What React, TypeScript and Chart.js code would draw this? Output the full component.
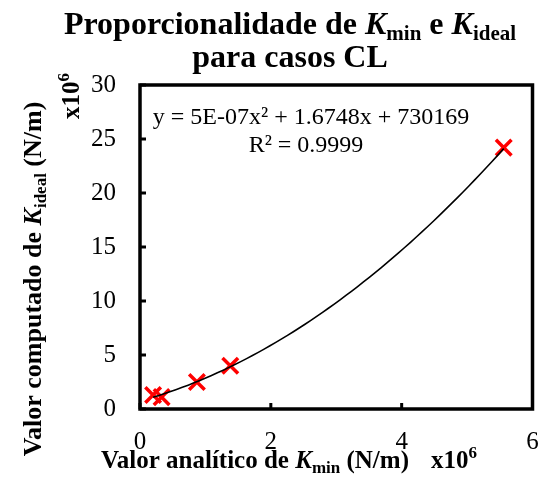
import React, { useEffect, useRef } from "react";
import { Chart, registerables } from "chart.js";
Chart.register(...registerables);

// values in units of 1e6 N/m
const kMinAnalytic = [0.2, 0.33, 0.87, 1.38, 5.56];
const kIdealComputed = [1.3, 1.1, 2.5, 4.0, 24.2];
const xTickValues = [0, 2, 4, 6];
const yTickValues = [0, 5, 10, 15, 20, 25, 30];
// Excel polynomial trendline (coefficients in 1e6 units; printed label rounds a to 5E-07)
const trendA = 0.455;
const trendB = 1.6748;
const trendC = 0.730169;
const trendSteps = 60;
const equationText = "y = 5E-07x² + 1.6748x + 730169";
const r2Text = "R² = 0.9999";

const FONT = '"Liberation Serif", "Times New Roman", serif';

type Seg = { t: string; size: number; bold?: boolean; italic?: boolean; dy?: number };

function fontOf(s: Seg) {
  return `${s.italic ? "italic " : ""}${s.bold ? "bold " : ""}${s.size}px ${FONT}`;
}

function drawRich(ctx: CanvasRenderingContext2D, segs: Seg[], x: number, y: number, align: "left" | "center") {
  let total = 0;
  const widths = segs.map((s) => {
    ctx.font = fontOf(s);
    const w = ctx.measureText(s.t).width;
    total += w;
    return w;
  });
  let cx = align === "center" ? x - total / 2 : x;
  ctx.textAlign = "left";
  ctx.textBaseline = "alphabetic";
  segs.forEach((s, i) => {
    ctx.font = fontOf(s);
    ctx.fillText(s.t, cx, y + (s.dy || 0));
    cx += widths[i];
  });
}

const decorPlugin = {
  id: "decor",
  afterDraw(chart: any) {
    const ctx: CanvasRenderingContext2D = chart.ctx;
    const { left, right, top, bottom } = chart.chartArea;
    const xs = chart.scales.x;
    const ys = chart.scales.y;
    ctx.save();
    ctx.fillStyle = "#000";
    ctx.strokeStyle = "#000";
    // frame
    ctx.lineWidth = 3.5;
    ctx.strokeRect(left, top, right - left, bottom - top);
    // inner tick marks
    ctx.lineWidth = 3;
    const tl = 6;
    yTickValues.forEach((v) => {
      const py = ys.getPixelForValue(v);
      ctx.beginPath();
      ctx.moveTo(left, py);
      ctx.lineTo(left + tl, py);
      ctx.stroke();
    });
    xTickValues.forEach((v) => {
      const px = xs.getPixelForValue(v);
      ctx.beginPath();
      ctx.moveTo(px, bottom);
      ctx.lineTo(px, bottom - tl);
      ctx.stroke();
    });

    // chart title
    drawRich(
      ctx,
      [
        { t: "Proporcionalidade de ", size: 32, bold: true },
        { t: "K", size: 32, bold: true, italic: true },
        { t: "min", size: 21, bold: true, dy: 6 },
        { t: " e ", size: 32, bold: true },
        { t: "K", size: 32, bold: true, italic: true },
        { t: "ideal", size: 21, bold: true, dy: 6 },
      ],
      290,
      34,
      "center"
    );
    drawRich(ctx, [{ t: "para casos CL", size: 32, bold: true }], 290, 67, "center");

    // x axis title
    drawRich(
      ctx,
      [
        { t: "Valor analítico de ", size: 25, bold: true },
        { t: "K", size: 25, bold: true, italic: true },
        { t: "min", size: 17, bold: true, dy: 5 },
        { t: " (N/m)", size: 25, bold: true },
      ],
      101,
      468,
      "left"
    );
    drawRich(
      ctx,
      [
        { t: "x10", size: 25, bold: true },
        { t: "6", size: 17, bold: true, dy: -10 },
      ],
      431,
      468,
      "left"
    );

    // y axis title (rotated)
    ctx.save();
    ctx.translate(41, 279);
    ctx.rotate(-Math.PI / 2);
    drawRich(
      ctx,
      [
        { t: "Valor computado de ", size: 26, bold: true },
        { t: "K", size: 26, bold: true, italic: true },
        { t: "ideal", size: 17, bold: true, dy: 5 },
        { t: " (N/m)", size: 26, bold: true },
      ],
      0,
      0,
      "center"
    );
    ctx.restore();
    ctx.save();
    ctx.translate(79, 96);
    ctx.rotate(-Math.PI / 2);
    drawRich(
      ctx,
      [
        { t: "x10", size: 25, bold: true },
        { t: "6", size: 17, bold: true, dy: -10 },
      ],
      0,
      0,
      "center"
    );
    ctx.restore();

    // trendline label
    ctx.fillStyle = "#000";
    ctx.font = `24px ${FONT}`;
    ctx.textAlign = "center";
    ctx.textBaseline = "alphabetic";
    ctx.fillText(equationText, 311, 124);
    ctx.fillText(r2Text, 306, 152);
    ctx.restore();
  },
};

export default function App() {
  const ref = useRef<HTMLCanvasElement | null>(null);
  useEffect(() => {
    if (!ref.current) return;
    const xMin = Math.min(...kMinAnalytic);
    const xMax = Math.max(...kMinAnalytic);
    const trend: { x: number; y: number }[] = [];
    for (let i = 0; i <= trendSteps; i++) {
      const x = xMin + ((xMax - xMin) * i) / trendSteps;
      trend.push({ x, y: trendA * x * x + trendB * x + trendC });
    }
    const points = kMinAnalytic.map((x, i) => ({ x, y: kIdealComputed[i] }));
    const chart = new Chart(ref.current, {
      type: "scatter",
      data: {
        datasets: [
          {
            label: "Tendência",
            data: trend,
            showLine: true,
            borderColor: "#000",
            borderWidth: 1.6,
            pointRadius: 0,
            tension: 0,
          } as any,
          {
            label: "Casos CL",
            data: points,
            pointStyle: "crossRot",
            pointRadius: 11,
            pointBorderWidth: 3.5,
            borderColor: "#ff0000",
            backgroundColor: "#ff0000",
            showLine: false,
          } as any,
        ],
      },
      options: {
        animation: false,
        responsive: false,
        maintainAspectRatio: false,
        layout: { padding: { top: 85, right: 12, left: 0, bottom: 0 } },
        plugins: {
          legend: { display: false },
          tooltip: { enabled: false },
          title: { display: false },
        },
        scales: {
          x: {
            type: "linear",
            min: 0,
            max: 6,
            afterBuildTicks: (s: any) => {
              s.ticks = xTickValues.map((v) => ({ value: v }));
            },
            afterFit: (s: any) => {
              s.height = 89;
              s.paddingLeft = 0;
              s.paddingRight = 0;
            },
            grid: { display: false, drawTicks: false },
            border: { display: false },
            ticks: {
              color: "#000",
              padding: 18,
              maxRotation: 0,
              font: { family: FONT, size: 25 },
            },
          },
          y: {
            type: "linear",
            min: 0,
            max: 30,
            afterBuildTicks: (s: any) => {
              s.ticks = yTickValues.map((v) => ({ value: v }));
            },
            afterFit: (s: any) => {
              s.width = 140;
              s.paddingTop = 0;
              s.paddingBottom = 0;
            },
            grid: { display: false, drawTicks: false },
            border: { display: false },
            ticks: {
              color: "#000",
              padding: 24,
              font: { family: FONT, size: 25 },
            },
          },
        },
      },
      plugins: [decorPlugin],
    });
    return () => chart.destroy();
  }, []);
  return (
    <div style={{ position: "absolute", left: 0, top: 0, width: 547, height: 498, background: "#fff" }}>
      <canvas ref={ref} width={547} height={498} style={{ width: 547, height: 498, display: "block" }} />
    </div>
  );
}
